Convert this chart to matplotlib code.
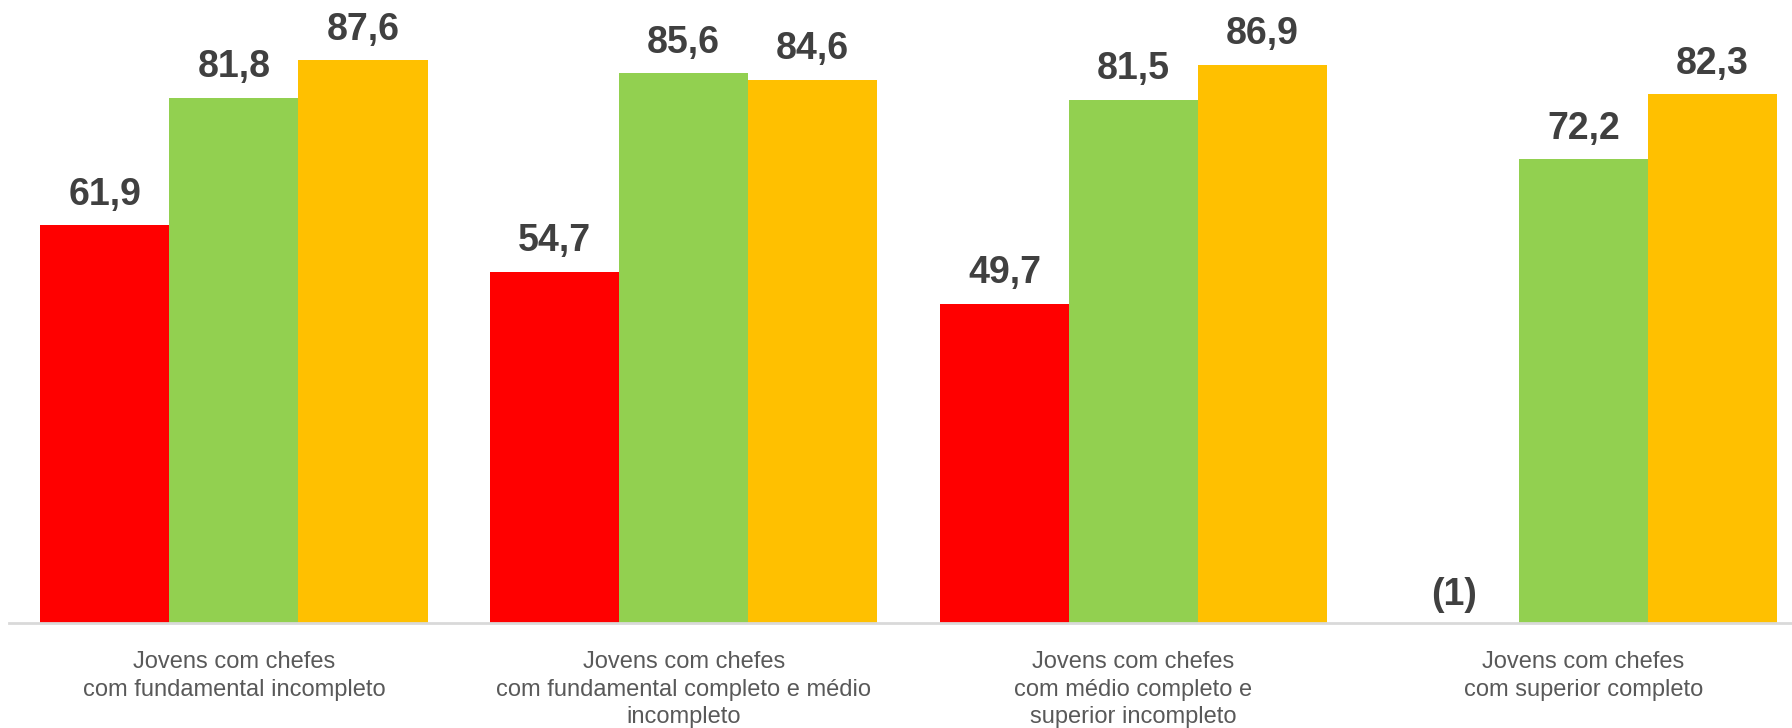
import numpy as np
import matplotlib.pyplot as plt

plt.rcParams['font.family'] = ['Liberation Sans', 'DejaVu Sans']

categories = ["Jovens com chefes\ncom fundamental incompleto",
              "Jovens com chefes\ncom fundamental completo e médio\nincompleto",
              "Jovens com chefes\ncom médio completo e\nsuperior incompleto",
              "Jovens com chefes\ncom superior completo"]
serie_vermelha = [61.9, 54.7, 49.7, None]
serie_verde = [81.8, 85.6, 81.5, 72.2]
serie_amarela = [87.6, 84.6, 86.9, 82.3]

cores = ["#FF0000", "#92D050", "#FFC000"]
series = [serie_vermelha, serie_verde, serie_amarela]

fig = plt.figure(figsize=(17.92, 7.28), dpi=100)
ax = fig.add_axes([0.005, 0.144, 0.995, 0.856])

x = np.arange(len(categories))
w = 0.287
for i, (vals, cor) in enumerate(zip(series, cores)):
    pos = x + (i - 1) * w
    for xp, v in zip(pos, vals):
        if v is None:
            # missing value, marked with (1)
            ax.annotate("(1)", (xp, 0), xytext=(0, 7), textcoords="offset points",
                        ha="center", va="bottom", fontsize=27, fontweight="bold", color="#404040")
            continue
        ax.bar(xp, v, width=w, color=cor, edgecolor="none")
        ax.annotate(f"{v:.1f}".replace(".", ","), (xp, v), xytext=(0, 9),
                    textcoords="offset points", ha="center", va="bottom",
                    fontsize=27, fontweight="bold", color="#404040")

ax.set_xlim(-0.5, 3.464)
ax.set_ylim(0, 97)
ax.set_xticks(x)
ax.set_xticklabels(categories, fontsize=17, color="#595959", linespacing=1.33)
ax.tick_params(axis="x", length=0, pad=20)
ax.set_yticks([])
for s in ["top", "right", "left"]:
    ax.spines[s].set_visible(False)
ax.spines["bottom"].set_color("#D9D9D9")
ax.spines["bottom"].set_linewidth(2)

fig.savefig("out.png", dpi=100)
